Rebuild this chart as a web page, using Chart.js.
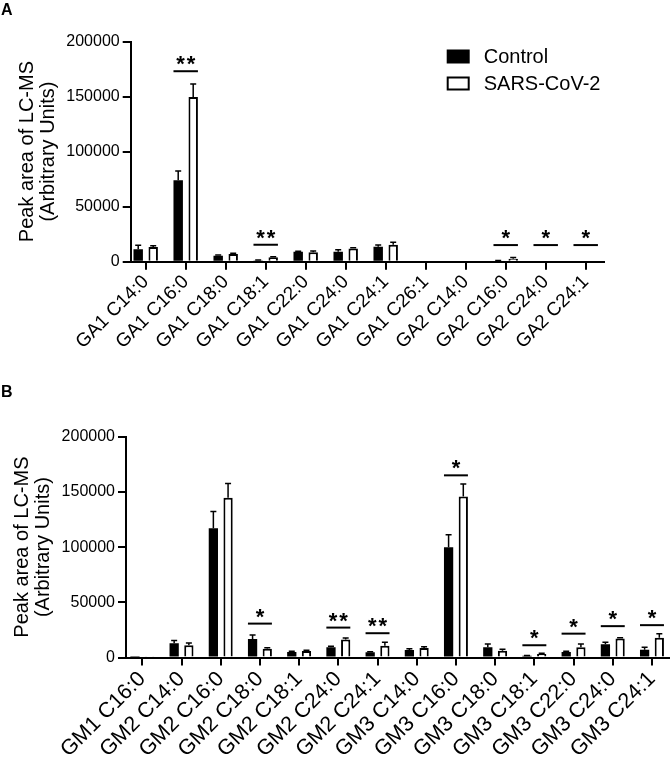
<!DOCTYPE html>
<html lang="en">
<head>
<meta charset="utf-8">
<script src="https://cdn.jsdelivr.net/npm/chart.js"></script>
<title>LC-MS peak areas</title>
<style>
	body { margin: 0; background: #fff; }
	.panel { position: absolute; left: 0; width: 670px; }
</style>
</head>
<body>
<div class="panel" style="top:0;height:380px"><canvas id="chartA" width="670" height="380"></canvas></div>
<div class="panel" style="top:380px;height:379px"><canvas id="chartB" width="670" height="379"></canvas></div>

<script>
	// panel A
	const labelsA = ['GA1 C14:0', 'GA1 C16:0', 'GA1 C18:0', 'GA1 C18:1', 'GA1 C22:0', 'GA1 C24:0',
		'GA1 C24:1', 'GA1 C26:1', 'GA2 C14:0', 'GA2 C16:0', 'GA2 C24:0', 'GA2 C24:1'];
	const controlA = [11200, 74000, 5400, 1200, 9100, 9100, 13600, 0, 0, 900, 0, 0];
	const controlAErr = [3700, 8300, 600, 300, 500, 1800, 1500, 0, 0, 200, 0, 0];
	const sarsA = [13300, 149500, 7000, 4000, 8500, 12100, 15400, 0, 0, 2700, 0, 0];
	const sarsAErr = [1200, 12000, 600, 600, 1200, 600, 2200, 0, 0, 1200, 0, 0];
	const sigA = ['', '**', '', '**', '', '', '', '', '', '*', '*', '*'];
	const sigAY = [null, 173000, null, 15400, null, null, null, null, null, 15100, 15100, 15100];

	// panel B
	const labelsB = ['GM1 C16:0', 'GM2 C14:0', 'GM2 C16:0', 'GM2 C18:0', 'GM2 C18:1', 'GM2 C24:0', 'GM2 C24:1',
		'GM3 C14:0', 'GM3 C16:0', 'GM3 C18:0', 'GM3 C18:1', 'GM3 C22:0', 'GM3 C24:0', 'GM3 C24:1'];
	const controlB = [200, 12900, 117000, 16800, 5000, 9300, 4700, 6800, 99800, 9300, 1600, 5000, 12000, 7100];
	const controlBErr = [0, 2400, 15300, 3600, 600, 900, 600, 1200, 11300, 3000, 300, 600, 1800, 2200];
	const sarsB = [600, 11100, 144700, 8000, 5900, 16200, 10700, 8600, 145900, 6200, 3200, 9300, 17100, 18000];
	const sarsBErr = [0, 2100, 13000, 900, 600, 1500, 3100, 1200, 11200, 1200, 600, 3000, 900, 3600];
	const sigB = ['', '', '', '*', '', '**', '**', '', '*', '', '*', '*', '*', '*'];
	const sigBY = [null, null, null, 30700, null, 27100, 22000, null, 165000, null, 11100, 21600, 28400, 29300];

	const yTicks = [0, 50000, 100000, 150000, 200000];
	const yTitle = ['Peak area of LC-MS', '(Arbitrary Units)'];
	const seriesNames = ['Control', 'SARS-CoV-2'];

	const FONT = "'Liberation Sans', Arial, Helvetica, sans-serif";

	const errorBars = {
		id: 'errorBars',
		afterDatasetsDraw(chart, args, opts) {
			const ctx = chart.ctx;
			const y = chart.scales.y;
			ctx.save();
			ctx.strokeStyle = '#000';
			ctx.lineWidth = 1.5;
			opts.errors.forEach((errs, di) => {
				const meta = chart.getDatasetMeta(di);
				const vals = chart.data.datasets[di].data;
				errs.forEach((e, i) => {
					if (!e) return;
					const bar = meta.data[i];
					const top = y.getPixelForValue(vals[i] + e);
					ctx.beginPath();
					ctx.moveTo(bar.x, bar.y);
					ctx.lineTo(bar.x, top);
					ctx.moveTo(bar.x - 3, top);
					ctx.lineTo(bar.x + 3, top);
					ctx.stroke();
				});
			});
			ctx.restore();
		}
	};

	const significance = {
		id: 'significance',
		afterDatasetsDraw(chart, args, opts) {
			const ctx = chart.ctx;
			const y = chart.scales.y;
			const m0 = chart.getDatasetMeta(0), m1 = chart.getDatasetMeta(1);
			ctx.save();
			ctx.fillStyle = '#000';
			ctx.strokeStyle = '#000';
			ctx.lineWidth = 2;
			ctx.font = 'bold 22px ' + FONT;
			ctx.textAlign = 'center';
			ctx.textBaseline = 'alphabetic';
			ctx.letterSpacing = '2px';
			opts.marks.forEach((m, i) => {
				if (!m) return;
				const b0 = m0.data[i], b1 = m1.data[i];
				const x0 = b0.x - b0.width / 2, x1 = b1.x + b1.width / 2;
				const py = y.getPixelForValue(opts.heights[i]);
				ctx.beginPath();
				ctx.moveTo(x0, py);
				ctx.lineTo(x1, py);
				ctx.stroke();
				ctx.fillText(m, (x0 + x1) / 2 + 1, py);
			});
			ctx.restore();
		}
	};

	const panelDecor = {
		id: 'panelDecor',
		afterDraw(chart, args, opts) {
			const ctx = chart.ctx;
			ctx.save();
			ctx.fillStyle = '#000';
			ctx.font = 'bold 16px ' + FONT;
			ctx.textBaseline = 'alphabetic';
			ctx.fillText(opts.letter, 1, opts.letterY);
			if (opts.legend) {
				const area = chart.chartArea;
				const lx = area.right - 157, ly = area.top + 8;
				ctx.font = '20px ' + FONT;
				ctx.textBaseline = 'middle';
				chart.data.datasets.forEach((ds, i) => {
					const top = ly + i * 27;
					if (ds.borderWidth) {
						ctx.lineWidth = 2;
						ctx.strokeStyle = '#000';
						ctx.strokeRect(lx + 1, top + 1, 21, 12);
					} else {
						ctx.fillRect(lx, top, 23, 14);
					}
					ctx.fillText(ds.label, lx + 37, top + 8);
				});
			}
			ctx.restore();
		}
	};

	function makeChart(id, p) {
		return new Chart(document.getElementById(id), {
			type: 'bar',
			data: {
				labels: p.labels,
				datasets: [
					{ label: seriesNames[0], data: p.control, backgroundColor: '#000', borderWidth: 0 },
					{ label: seriesNames[1], data: p.sars, backgroundColor: '#fff', borderColor: '#000', borderWidth: 2 }
				]
			},
			options: {
				responsive: false,
				animation: false,
				categoryPercentage: 0.75,
				barPercentage: 0.63,
				layout: { padding: { left: 0, right: p.padRight, top: p.padTop, bottom: 0 } },
				plugins: {
					legend: { display: false },
					tooltip: { enabled: false },
					errorBars: { errors: [p.controlErr, p.sarsErr] },
					significance: { marks: p.sig, heights: p.sigY },
					panelDecor: { letter: p.letter, letterY: p.letterY, legend: p.legend }
				},
				scales: {
					x: {
						offset: true,
						grid: { offset: false, drawOnChartArea: false, tickLength: 8, lineWidth: 2, color: '#000' },
						border: { color: '#000', width: 2 },
						ticks: { autoSkip: false, maxRotation: 45, minRotation: 45, padding: 1, color: '#000', font: { family: FONT, size: p.xFont } },
						// gap between the y axis and the first category, and after the last one
						afterBuildTicks(s) {
							s._startValue = -p.gapStart;
							s._valueRange = p.labels.length - 1 + p.gapStart + p.gapEnd;
						},
						afterFit(s) { s.height = p.xHeight; s.paddingLeft = 0; s.paddingRight = 0; }
					},
					y: {
						min: 0,
						max: 200000,
						grid: { drawOnChartArea: false, tickLength: 8, lineWidth: 2, color: '#000' },
						border: { color: '#000', width: 2 },
						afterBuildTicks(s) { s.ticks = yTicks.map(v => ({ value: v })); },
						ticks: { color: '#000', padding: 3, font: { family: FONT, size: 16 }, callback: v => String(v) },
						title: { display: true, text: yTitle, color: '#000', padding: { top: p.titlePad, bottom: 0 }, font: { family: FONT, size: 20, lineHeight: 1.05 } },
						afterFit(s) { s.width = p.yWidth; s.paddingTop = 0; s.paddingBottom = 0; }
					}
				}
			},
			plugins: [errorBars, significance, panelDecor]
		});
	}

	makeChart('chartA', {
		labels: labelsA, control: controlA, controlErr: controlAErr, sars: sarsA, sarsErr: sarsAErr,
		sig: sigA, sigY: sigAY, letter: 'A', letterY: 15, legend: true,
		padRight: 66.3, padTop: 41.5, yWidth: 130.7, xHeight: 118.3, xFont: 19, titlePad: 16.5,
		gapStart: 0.375, gapEnd: 0.45
	});
	makeChart('chartB', {
		labels: labelsB, control: controlB, controlErr: controlBErr, sars: sarsB, sarsErr: sarsBErr,
		sig: sigB, sigY: sigBY, letter: 'B', letterY: 17, legend: false,
		padRight: 0, padTop: 56.7, yWidth: 126, xHeight: 101.5, xFont: 21.5, titlePad: 11.5,
		gapStart: 0.416, gapEnd: 0.46
	});
</script>
</body>
</html>
